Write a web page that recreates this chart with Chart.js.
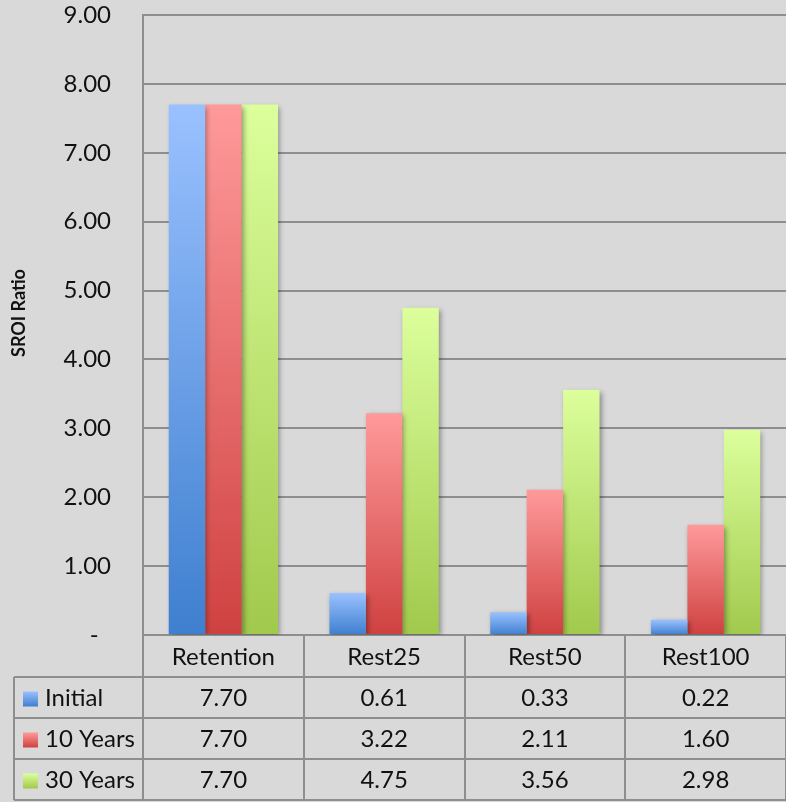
<!DOCTYPE html>
<html>
<head>
<meta charset="utf-8">
<title>SROI Ratio</title>
<script src="https://cdn.jsdelivr.net/npm/chart.js@4.4.1/dist/chart.umd.min.js"></script>
<style>
  html, body { margin: 0; padding: 0; background: #d9d9d9; }
  #wrap { width: 786px; height: 802px; position: relative; }
</style>
</head>
<body>
<div id="wrap"><canvas id="chart" width="786" height="802"></canvas></div>
<script>
// Scenario categories and SROI ratios per time horizon
const categories = ['Retention', 'Rest25', 'Rest50', 'Rest100'];
const seriesNames = ['Initial', '10 Years', '30 Years'];
const initialValues = [7.70, 0.61, 0.33, 0.22];
const tenYearValues = [7.70, 3.22, 2.11, 1.60];
const thirtyYearValues = [7.70, 4.75, 3.56, 2.98];
const yTicks = [0, 1, 2, 3, 4, 5, 6, 7, 8, 9];
const yTitle = 'SROI Ratio';

// Light (top) and dark (bottom) colour of each series' gradient fill
const seriesColors = [
  ['#9ac1ff', '#3e7fcf'],
  ['#ff9a9a', '#cf4141'],
  ['#dcff9c', '#a1c94c']
];

const FONT = 'Lato, "Open Sans", sans-serif';
const TEXT_SIZE = 24;
const GRID = '#8e8e8e';
const ROW_H = 41;

function barGradient(i) {
  return function (ctx) {
    const chart = ctx.chart;
    const y = chart.scales && chart.scales.y;
    if (ctx.type !== 'data' || !y || !ctx.parsed) return seriesColors[i][0];
    const top = y.getPixelForValue(ctx.parsed.y);
    const bottom = y.getPixelForValue(0);
    if (!isFinite(top) || !isFinite(bottom) || top === bottom) return seriesColors[i][0];
    const g = chart.ctx.createLinearGradient(0, top, 0, bottom);
    g.addColorStop(0, seriesColors[i][0]);
    g.addColorStop(1, seriesColors[i][1]);
    return g;
  };
}

// Soft drop shadow under the bars
const barShadow = {
  id: 'barShadow',
  beforeDatasetsDraw(chart) {
    const c = chart.ctx;
    c.save();
    c.shadowColor = 'rgba(0,0,0,0.35)';
    c.shadowBlur = 5;
    c.shadowOffsetX = 2;
    c.shadowOffsetY = 2;
  },
  afterDatasetsDraw(chart) {
    chart.ctx.restore();
  }
};

// Rotated axis title, centred on the plot plus table block
const axisTitle = {
  id: 'axisTitle',
  afterDraw(chart) {
    const c = chart.ctx;
    c.save();
    c.translate(19, 313);
    c.rotate(-Math.PI / 2);
    c.fillStyle = '#111';
    c.font = 'bold 18px ' + FONT;
    c.textAlign = 'center';
    c.textBaseline = 'middle';
    c.fillText(yTitle, 0, 0);
    c.restore();
  }
};

// Data table under the plot: header row with categories, one row per series
const dataTable = {
  id: 'dataTable',
  afterDraw(chart) {
    const c = chart.ctx;
    const x = chart.scales.x;
    const area = chart.chartArea;
    const n = categories.length;
    const colW = (x.right - x.left) / n;
    const top = area.bottom;
    const headerBottom = top + 42;
    const legendLeft = 14;
    const rows = chart.data.datasets.length;
    const tableBottom = headerBottom + rows * ROW_H;

    c.save();
    c.strokeStyle = GRID;
    c.lineWidth = 2;
    c.beginPath();
    for (let i = 0; i <= n; i++) {
      const xx = Math.round(x.left + i * colW);
      c.moveTo(xx, top);
      c.lineTo(xx, tableBottom);
    }
    c.moveTo(legendLeft, headerBottom);
    c.lineTo(legendLeft, tableBottom);
    for (let r = 0; r <= rows; r++) {
      const yy = headerBottom + r * ROW_H;
      c.moveTo(legendLeft, yy);
      c.lineTo(x.right, yy);
    }
    c.stroke();

    c.fillStyle = '#111';
    c.font = TEXT_SIZE + 'px ' + FONT;
    c.textAlign = 'center';
    c.textBaseline = 'middle';
    categories.forEach((cat, i) => {
      c.fillText(cat, x.left + (i + 0.5) * colW, top + 22);
    });

    chart.data.datasets.forEach((ds, r) => {
      const cy = headerBottom + r * ROW_H + ROW_H / 2 + 1;
      const g = c.createLinearGradient(0, cy - 7, 0, cy + 8);
      g.addColorStop(0, seriesColors[r][0]);
      g.addColorStop(1, seriesColors[r][1]);
      c.fillStyle = g;
      c.fillRect(23, cy - 7, 15, 15);
      c.fillStyle = '#111';
      c.textAlign = 'left';
      c.fillText(ds.label, 45, cy);
      c.textAlign = 'center';
      ds.data.forEach((v, i) => {
        c.fillText(v.toFixed(2), x.left + (i + 0.5) * colW, cy);
      });
    });
    c.restore();
  }
};

const allSeries = [initialValues, tenYearValues, thirtyYearValues];

new Chart(document.getElementById('chart'), {
  type: 'bar',
  data: {
    labels: categories,
    datasets: allSeries.map((vals, i) => ({
      label: seriesNames[i],
      data: vals,
      backgroundColor: barGradient(i),
      borderWidth: 0,
      categoryPercentage: 0.68,
      barPercentage: 1.0
    }))
  },
  options: {
    responsive: false,
    animation: false,
    layout: { padding: { top: 15, right: 0, bottom: 167, left: 0 } },
    plugins: {
      legend: { display: false },
      tooltip: { enabled: false }
    },
    scales: {
      x: {
        grid: { display: false, drawTicks: false },
        border: { display: true, color: GRID, width: 2 },
        ticks: { display: false },
        afterFit(scale) { scale.height = 0; }
      },
      y: {
        min: 0,
        max: 9,
        afterBuildTicks(scale) { scale.ticks = yTicks.map(v => ({ value: v })); },
        afterFit(scale) {
          scale.width = 143;
          scale.paddingTop = 0;
          scale.paddingBottom = 0;
        },
        grid: { color: GRID, lineWidth: 2, drawTicks: false },
        border: { display: true, color: GRID, width: 2 },
        ticks: {
          padding: 32,
          color: '#111',
          font: { family: FONT, size: TEXT_SIZE },
          // accounting style: zero shown as a dash
          callback: v => (v === 0 ? '-  ' : v.toFixed(2))
        },
        title: { display: false }
      }
    }
  },
  plugins: [barShadow, axisTitle, dataTable]
});
</script>
</body>
</html>
